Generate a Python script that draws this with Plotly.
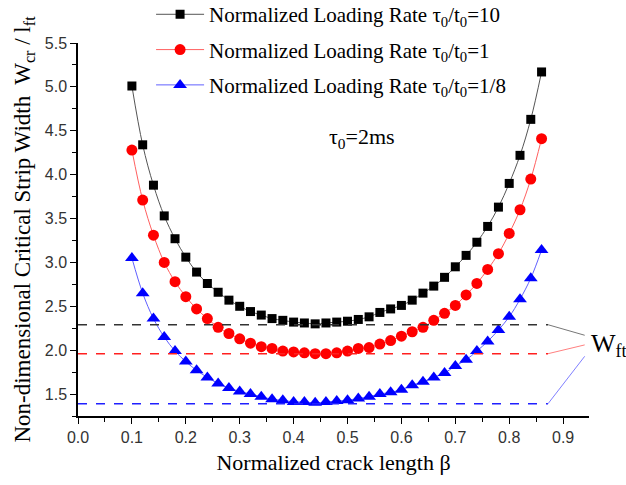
import plotly.graph_objects as go

beta = [round(0.10 + 0.02 * i, 2) for i in range(39)]

w_rate10 = [5.01, 4.34, 3.88, 3.53, 3.27, 3.06, 2.89, 2.76, 2.66, 2.57,
            2.50, 2.44, 2.40, 2.36, 2.34, 2.32, 2.31, 2.30, 2.31, 2.32,
            2.33, 2.35, 2.38, 2.43, 2.47, 2.51, 2.57, 2.65, 2.73, 2.83,
            2.95, 3.08, 3.23, 3.41, 3.63, 3.90, 4.22, 4.63, 5.17]

w_rate1 = [4.28, 3.71, 3.31, 3.00, 2.78, 2.61, 2.47, 2.36, 2.26, 2.19,
           2.13, 2.08, 2.04, 2.02, 1.99, 1.98, 1.97, 1.96, 1.96, 1.97,
           1.99, 2.02, 2.03, 2.07, 2.11, 2.16, 2.21, 2.26, 2.34, 2.42,
           2.51, 2.63, 2.76, 2.92, 3.10, 3.33, 3.60, 3.95, 4.41]

w_rate18 = [3.05, 2.65, 2.36, 2.15, 1.99, 1.87, 1.77, 1.69, 1.62, 1.57,
            1.53, 1.50, 1.47, 1.44, 1.43, 1.41, 1.41, 1.40, 1.41, 1.42,
            1.43, 1.45, 1.47, 1.50, 1.52, 1.55, 1.60, 1.64, 1.69, 1.74,
            1.82, 1.89, 1.99, 2.10, 2.23, 2.38, 2.58, 2.82, 3.14]

wft_levels = [2.29, 1.96, 1.39]
wft_leader_end = [2.17, 2.06, 1.93]
dash_x = [0.0, 0.872]
leader_x = [0.872, 0.94]

names = ["Normalized Loading Rate τ<sub>0</sub>/t<sub>0</sub>=10",
         "Normalized Loading Rate τ<sub>0</sub>/t<sub>0</sub>=1",
         "Normalized Loading Rate τ<sub>0</sub>/t<sub>0</sub>=1/8"]
series = [w_rate10, w_rate1, w_rate18]
marker_colors = ["#000000", "#ff0000", "#0000ff"]
line_colors = ["#555555", "#ff6060", "#6060ff"]
dash_colors = ["#333333", "#ff2020", "#2020ff"]
leader_colors = ["#777777", "#ff8080", "#8080ff"]
symbols = ["square", "circle", "triangle-up"]
sizes = [9, 11, 12]

fig = go.Figure()
for i, (ys, nm, mc, lc, sym, sz) in enumerate(zip(series, names, marker_colors, line_colors, symbols, sizes)):
    fig.add_trace(go.Scatter(x=beta, y=ys, name=nm, mode="lines+markers",
                             legendgroup=f"g{i}",
                             line=dict(color=lc, width=1, shape="spline"),
                             marker=dict(symbol=sym, size=sz, color=mc)))

for lvl, end, dc, lc in zip(wft_levels, wft_leader_end, dash_colors, leader_colors):
    fig.add_trace(go.Scatter(x=dash_x, y=[lvl, lvl], mode="lines", showlegend=False,
                             line=dict(color=dc, width=1.5, dash="dash"), hoverinfo="skip"))
    fig.add_trace(go.Scatter(x=leader_x, y=[lvl, end], mode="lines", showlegend=False,
                             line=dict(color=lc, width=1), hoverinfo="skip"))

fig.add_annotation(x=0.462, y=4.42, xref="x", yref="y", text="τ<sub>0</sub>=2ms",
                   showarrow=False, xanchor="left",
                   font=dict(family="Liberation Serif", size=22, color="black"))
fig.add_annotation(x=1.0, y=2.06, xref="paper", yref="y", text="W<sub>ft</sub>",
                   showarrow=False, xanchor="left",
                   font=dict(family="Liberation Serif", size=26, color="black"))

axis_common = dict(showline=True, linecolor="black", linewidth=1.5, ticks="outside",
                   tickcolor="black", ticklen=6, tickwidth=1.2, showgrid=False, zeroline=False,
                   tickfont=dict(family="Liberation Sans", size=16, color="#333"),
                   mirror=False)

fig.update_layout(
    width=626, height=485,
    margin=dict(l=78, r=37, t=43, b=69, autoexpand=False),
    plot_bgcolor="white", paper_bgcolor="white",
    xaxis=dict(range=[0, 0.948], dtick=0.1, tick0=0, tickformat=".1f",
               minor=dict(dtick=0.05, ticks="outside", ticklen=4, tickcolor="black"),
               title=dict(text="Normalized crack length β", standoff=10,
                          font=dict(family="Liberation Serif", size=22, color="black")),
               **axis_common),
    yaxis=dict(range=[1.25, 5.5], dtick=0.5, tick0=0, tickformat=".1f",
               minor=dict(dtick=0.25, ticks="outside", ticklen=4, tickcolor="black"),
               title=dict(text="Non-dimensional Critical Strip Width  W<sub>cr</sub> / l<sub>ft</sub>",
                          standoff=8,
                          font=dict(family="Liberation Serif", size=23, color="black")),
               **axis_common),
    legend=dict(x=0.143, y=1.131, xanchor="left", yanchor="top", bgcolor="rgba(0,0,0,0)",
                font=dict(family="Liberation Serif", size=21, color="black"),
                itemwidth=48, tracegroupgap=5),
    showlegend=True,
)

fig.write_html("out.html")
